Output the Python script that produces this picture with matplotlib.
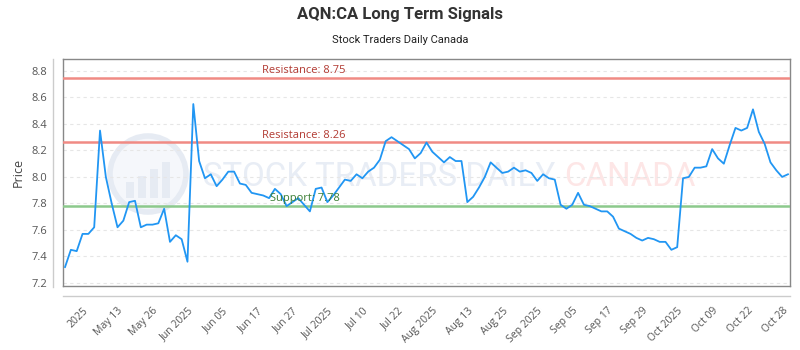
import matplotlib
matplotlib.use("Agg")
import matplotlib.pyplot as plt
from matplotlib.lines import Line2D
from matplotlib.patches import Ellipse, Rectangle

# daily closes
prices = [7.32, 7.45, 7.44, 7.57, 7.57, 7.62, 8.35, 8.00, 7.80, 7.62,
          7.67, 7.81, 7.82, 7.62, 7.64, 7.64, 7.65, 7.76, 7.51, 7.56,
          7.53, 7.36, 8.55, 8.12, 7.99, 8.02, 7.93, 7.98, 8.04, 8.04,
          7.95, 7.94, 7.88, 7.87, 7.86, 7.84, 7.91, 7.87, 7.78, 7.81,
          7.84, 7.79, 7.74, 7.91, 7.92, 7.81, 7.86, 7.92, 7.98, 7.97,
          8.02, 7.99, 8.04, 8.07, 8.13, 8.27, 8.30, 8.27, 8.24, 8.21,
          8.14, 8.18, 8.26, 8.19, 8.15, 8.11, 8.15, 8.12, 8.12, 7.81,
          7.85, 7.92, 8.00, 8.11, 8.07, 8.03, 8.04, 8.07, 8.04, 8.05,
          8.03, 7.97, 8.02, 7.99, 7.98, 7.79, 7.76, 7.79, 7.88, 7.79,
          7.78, 7.76, 7.74, 7.74, 7.70, 7.61, 7.59, 7.57, 7.54, 7.52,
          7.54, 7.53, 7.51, 7.51, 7.45, 7.47, 7.99, 8.00, 8.07, 8.07,
          8.08, 8.21, 8.14, 8.10, 8.24, 8.37, 8.35, 8.37, 8.51, 8.34,
          8.25, 8.11, 8.05, 8.00, 8.02]

tick_labels = ["2025", "May 13", "May 26", "Jun 2025", "Jun 05", "Jun 17",
               "Jun 27", "Jul 2025", "Jul 10", "Jul 22", "Aug 2025", "Aug 13",
               "Aug 25", "Sep 2025", "Sep 05", "Sep 17", "Sep 29", "Oct 2025",
               "Oct 09", "Oct 22", "Oct 28"]
tick_pos = [3 + 6 * i for i in range(len(tick_labels))]

resistance = [8.75, 8.26]
support = [7.78]

plt.rcParams['font.family'] = ['Open Sans', 'DejaVu Sans']

fig = plt.figure(figsize=(8, 3.5), dpi=100, facecolor='white')
ax = fig.add_axes([0.07875, 0.1829, 0.90875, 0.6485])
ax.patch.set_visible(False)

x = list(range(len(prices)))
ax.plot(x, prices, color='#2196F3', lw=1.3, zorder=5)

for r in resistance:
    ax.axhline(r, color='#f08a84', lw=1.8, zorder=3)
    ax.text(33.8, r + 0.012, f"Resistance: {r:.2f}", color='#b23a32',
            fontsize=8, va='bottom', ha='left', zorder=6)
for s in support:
    ax.axhline(s, color='#8cc98c', lw=1.8, zorder=3)
    ax.text(35.2, s + 0.012, f"Support: {s:.2f}", color='#3a7d34',
            fontsize=8, va='bottom', ha='left', zorder=6)

ax.set_xlim(-0.35, len(prices) - 0.65)
ax.set_ylim(7.177, 8.89)
ax.set_yticks([7.2, 7.4, 7.6, 7.8, 8.0, 8.2, 8.4, 8.6, 8.8])
ax.set_xticks(tick_pos)
ax.set_xticklabels(tick_labels, rotation=45, ha='right', va='top',
                   rotation_mode='anchor')
ax.tick_params(axis='both', length=0, colors='#555555', labelsize=8)
ax.tick_params(axis='x', pad=14, labelsize=7.5)
ax.tick_params(axis='y', pad=11)
ax.grid(axis='y', color='#e6e6e6', linestyle=(0, (3, 3)), lw=0.8)
ax.set_ylabel("Price", color='#444444', fontsize=9, labelpad=5)

for sp in ax.spines.values():
    sp.set_color('#888888')
    sp.set_linewidth(1.0)

# offset axis lines
fig.add_artist(Line2D([53 / 800, 53 / 800], [1 - 59 / 350, 1 - 287 / 350],
                      color='#cccccc', lw=1))
fig.add_artist(Line2D([63 / 800, 790 / 800], [1 - 296 / 350, 1 - 296 / 350],
                      color='#cccccc', lw=1))

# watermark
fig.add_artist(Ellipse((148 / 800, 1 - 174 / 350), 76 / 800, 76 / 350,
                       transform=fig.transFigure, facecolor='#f5f7fb',
                       edgecolor='#e6ebf3', lw=4, zorder=0))
wm_bars = [0.35, 0.5, 0.65, 0.8]
for i, h in enumerate(wm_bars):
    fig.add_artist(Rectangle(((126 + i * 12) / 800, 1 - 198 / 350), 8 / 800, h * 45 / 350,
                             transform=fig.transFigure, facecolor='#e6ebf3',
                             edgecolor='none', zorder=0))
wm = ax.text(0.193, 0.48, "STOCK TRADERS DAILY ", transform=ax.transAxes,
             fontsize=23.8, color='#e8edf5', ha='left', va='center', zorder=1,
             family='Roboto')
ax.annotate("CANADA", xy=(1, 0.5), xycoords=wm, va='center', ha='left',
            fontsize=23.8, color='#fde6e6', zorder=1, family='Roboto')

fig.text(0.5, 1 - 15 / 350, "AQN:CA Long Term Signals", ha='center', va='center',
         fontsize=12, fontweight='bold', color='#333333', family='Roboto')
fig.text(0.5, 1 - 40 / 350, "Stock Traders Daily Canada", ha='center', va='center',
         fontsize=8, color='#222222', family='Roboto')

fig.savefig("out.png", dpi=100)
